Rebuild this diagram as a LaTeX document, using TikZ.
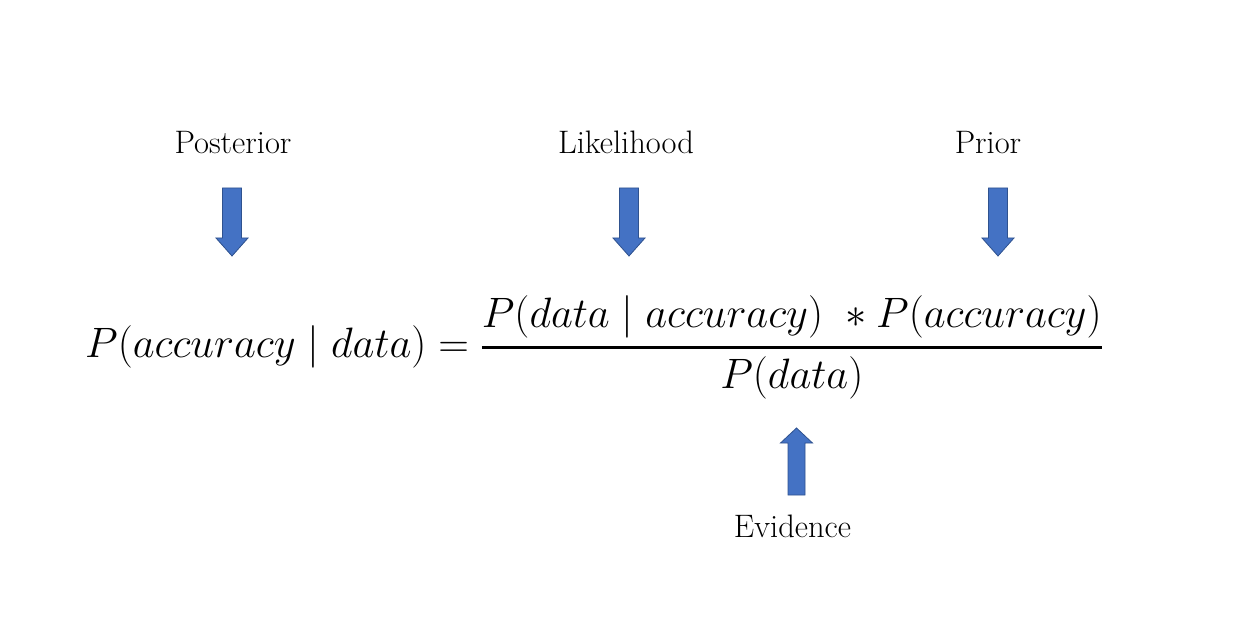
\RequirePackage{fix-cm}
\documentclass[tikz,border=0pt]{standalone}
\usepackage{amsmath}
\definecolor{arrowfill}{HTML}{4472C4}
\definecolor{arrowline}{HTML}{2F528F}
\tikzset{
  blockarrow/.style={fill=arrowfill, draw=arrowline, line width=0.8pt, line join=miter},
  lbl/.style={anchor=base, inner sep=0pt, font=\fontsize{32.5}{39}\selectfont},
  eqn/.style={anchor=base west, inner sep=0pt, font=\fontsize{42.5}{51}\selectfont},
  downarrow/.pic={\draw[blockarrow] (-9.5,0) -- (9.5,0) -- (9.5,50) -- (16,50) -- (0,68) -- (-16,50) -- (-9.5,50) -- cycle;},
  uparrow/.pic={\draw[blockarrow] (-8.5,0) -- (8.5,0) -- (8.5,-52) -- (16,-52) -- (0,-67) -- (-16,-52) -- (-8.5,-52) -- cycle;}
}
\begin{document}
\begin{tikzpicture}[x=1pt,y=-1pt]
\useasboundingbox[fill=white] (0,0) rectangle (1248,620);
% labels
\node[lbl] (posterior) at (233,154) {Posterior};
\node[lbl] (likelihood) at (626,154) {Likelihood};
\node[lbl] (prior) at (988,154) {Prior};
\node[lbl] (evidence) at (792.5,537) {Evidence};
% arrows
\pic at (232,188) {downarrow};
\pic at (629,188) {downarrow};
\pic at (998,188) {downarrow};
\pic at (796.5,495) {uparrow};
% equation
\node[eqn] (bayes) at (85,358) {$\displaystyle P(accuracy \mid data) = \genfrac{}{}{2.6pt}{0}{P(data \mid accuracy)\ \ast P(accuracy)}{P(data)}$};
\end{tikzpicture}
\end{document}
